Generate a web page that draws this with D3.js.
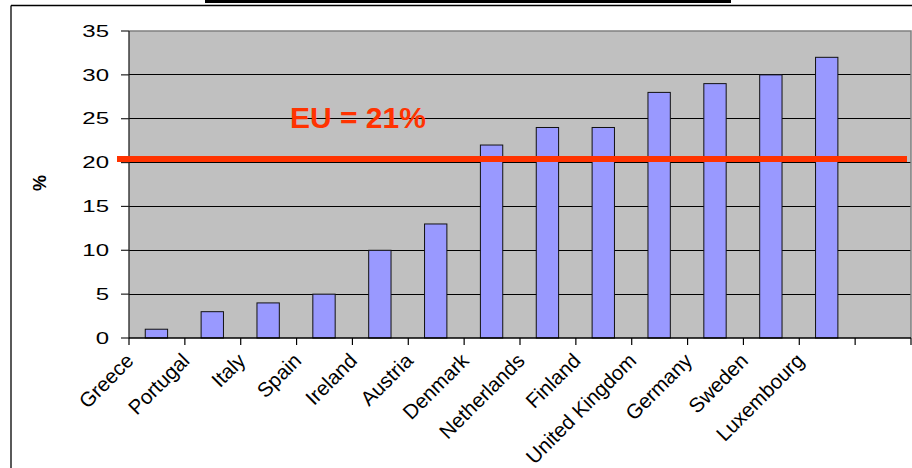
<!DOCTYPE html>
<html>
<head>
<meta charset="utf-8">
<script src="https://cdn.jsdelivr.net/npm/d3@7"></script>
<style>
  html, body { margin: 0; padding: 0; background: #ffffff; }
  svg { display: block; }
  text { font-family: "Liberation Sans", Arial, sans-serif; }
</style>
</head>
<body>
<svg id="chart" width="912" height="468"></svg>
<script>
// ---- data ----
const countries = ["Greece", "Portugal", "Italy", "Spain", "Ireland", "Austria", "Denmark",
  "Netherlands", "Finland", "United Kingdom", "Germany", "Sweden", "Luxembourg"];
const values = [1, 3, 4, 5, 10, 13, 22, 24, 24, 28, 29, 30, 32];
const slots = countries.concat([""]); // empty trailing category slot
const yTicks = [0, 5, 10, 15, 20, 25, 30, 35];
const euLevel = 20.4;
const euLabel = "EU = 21%";
const yTitle = "%";

// ---- layout ----
const W = 912, H = 468;
const plot = { left: 129, right: 911, top: 31, bottom: 338 };
const sx = 1.5; // horizontal stretch of the original's text

const svg = d3.select("#chart");

// outer frame
svg.append("rect").attr("x", 205).attr("y", 0).attr("width", 526).attr("height", 3).attr("fill", "#000");
svg.append("line").attr("x1", 11).attr("x2", 11).attr("y1", 5.5).attr("y2", H)
  .attr("stroke", "#000").attr("stroke-width", 1.3);
svg.append("line").attr("x1", 11).attr("x2", W).attr("y1", 5.5).attr("y2", 5.5)
  .attr("stroke", "#000").attr("stroke-width", 1.3);

const x = d3.scaleBand().domain(slots).range([plot.left, plot.right]).padding(0);
const y = d3.scaleLinear().domain([0, 35]).range([plot.bottom, plot.top]);

// plot background
svg.append("rect").attr("x", plot.left).attr("y", plot.top)
  .attr("width", plot.right - plot.left).attr("height", plot.bottom - plot.top)
  .attr("fill", "#C0C0C0");

// gridlines
svg.append("g").selectAll("line").data(yTicks.filter(t => t > 0 && t < 35)).join("line")
  .attr("x1", plot.left).attr("x2", plot.right)
  .attr("y1", d => y(d)).attr("y2", d => y(d))
  .attr("stroke", "#000").attr("stroke-width", 1).attr("shape-rendering", "crispEdges");

// top and right border of plot (gray)
svg.append("path")
  .attr("d", `M${plot.left},${y(35)}H${plot.right}V${plot.bottom}`)
  .attr("fill", "none").attr("stroke", "#808080").attr("stroke-width", 1.5);

// bars
const bw = x.bandwidth() * 0.4;
svg.append("g").selectAll("rect").data(countries).join("rect")
  .attr("x", (d) => x(d) + x.bandwidth() / 2 - bw / 2 - 0.5)
  .attr("y", (d, i) => y(values[i]))
  .attr("width", bw)
  .attr("height", (d, i) => y(0) - y(values[i]))
  .attr("fill", "#9999FF").attr("stroke", "#111").attr("stroke-width", 1);

// y axis
const yAxis = svg.append("g");
yAxis.append("line").attr("x1", plot.left).attr("x2", plot.left)
  .attr("y1", plot.top).attr("y2", plot.bottom).attr("stroke", "#222").attr("stroke-width", 1.3);
yAxis.selectAll("line.tick").data(yTicks).join("line").attr("class", "tick")
  .attr("x1", plot.left - 8).attr("x2", plot.left)
  .attr("y1", d => y(d)).attr("y2", d => y(d))
  .attr("stroke", "#222").attr("stroke-width", 1.2);
yAxis.selectAll("text").data(yTicks).join("text")
  .attr("transform", d => `translate(109,${y(d) + 5.7}) scale(${sx},1)`)
  .attr("text-anchor", "end").attr("font-size", 16).attr("fill", "#000")
  .text(d => d);

// x axis
const xAxis = svg.append("g");
xAxis.append("line").attr("x1", plot.left).attr("x2", plot.right)
  .attr("y1", plot.bottom).attr("y2", plot.bottom).attr("stroke", "#000").attr("stroke-width", 1.3);
const bounds = slots.map(s => x(s)).concat([plot.right]);
xAxis.selectAll("line.tick").data(bounds).join("line").attr("class", "tick")
  .attr("x1", d => d).attr("x2", d => d)
  .attr("y1", plot.bottom).attr("y2", plot.bottom + 7)
  .attr("stroke", "#000").attr("stroke-width", 1.2);
xAxis.selectAll("text").data(countries).join("text")
  .attr("transform", d => `translate(${x(d) + x.bandwidth() / 2 - 22},362) rotate(-45)`)
  .attr("text-anchor", "end").attr("font-size", 20.5).attr("fill", "#000")
  .text(d => d);

// y title
svg.append("text")
  .attr("transform", "translate(46,183) rotate(-90)")
  .attr("text-anchor", "middle").attr("font-size", 18).attr("font-weight", "bold")
  .text(yTitle);

// EU reference line
svg.append("line").attr("x1", 117).attr("x2", 907)
  .attr("y1", y(euLevel)).attr("y2", y(euLevel))
  .attr("stroke", "#FF3300").attr("stroke-width", 6);
svg.append("text").attr("x", 290).attr("y", 128)
  .attr("font-size", 30).attr("font-weight", "bold").attr("fill", "#FF3300")
  .text(euLabel);
</script>
</body>
</html>
